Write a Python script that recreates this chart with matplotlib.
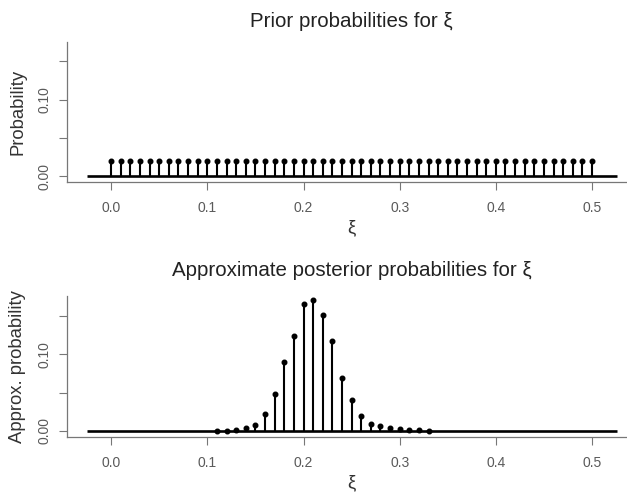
import numpy as np
import matplotlib
matplotlib.use('Agg')
import matplotlib.pyplot as plt
from matplotlib.ticker import FixedLocator, FixedFormatter

plt.rcParams['font.family'] = ['Liberation Sans', 'DejaVu Sans']

# prior: uniform over xi = 0.00, 0.01, ..., 0.50
xi_prior = np.round(np.arange(0, 51) * 0.01, 2)
p_prior = np.full(51, 1 / 51)

# approximate posterior
xi_post = np.round(np.arange(11, 34) * 0.01, 2)
p_post = [0.0005, 0.0006, 0.001, 0.004, 0.008, 0.022, 0.048, 0.090,
          0.124, 0.165, 0.171, 0.151, 0.117, 0.069, 0.040, 0.020,
          0.0095, 0.006, 0.0035, 0.0025, 0.0012, 0.0008, 0.0004]

baseline_x = [-0.025, 0.526]
y_ticks = [0.0, 0.05, 0.10, 0.15]
y_tick_labels = ['0.00', '', '0.10', '']
x_ticks = [0.0, 0.1, 0.2, 0.3, 0.4, 0.5]
x_tick_labels = ['0.0', '0.1', '0.2', '0.3', '0.4', '0.5']

W, H = 627, 495
fig = plt.figure(figsize=(W / 100, H / 100), dpi=100)

axis_col = '#777777'
text_col = '#5a5a5a'


def make_axes(top_px, bottom_px):
    left_px, right_px = 66.7, 636.5
    ax = fig.add_axes([left_px / W, 1 - bottom_px / H,
                       (right_px - left_px) / W, (bottom_px - top_px) / H])
    ax.set_xlim(-0.0462, 0.5462)
    ax.set_ylim(-0.0072, 0.1755)
    for s in ['top', 'right']:
        ax.spines[s].set_visible(False)
    for s in ['left', 'bottom']:
        ax.spines[s].set_color(axis_col)
        ax.spines[s].set_linewidth(0.9)
    ax.xaxis.set_major_locator(FixedLocator(x_ticks))
    ax.xaxis.set_major_formatter(FixedFormatter(x_tick_labels))
    ax.yaxis.set_major_locator(FixedLocator(y_ticks))
    ax.yaxis.set_major_formatter(FixedFormatter(y_tick_labels))
    ax.tick_params(axis='both', direction='out', length=6, width=0.8,
                   color=axis_col, labelcolor=text_col, labelsize=10)
    ax.tick_params(axis='x', pad=8)
    ax.tick_params(axis='y', pad=5)
    for lab in ax.get_yticklabels():
        lab.set_rotation(90)
        lab.set_va('center')
    ax.plot(baseline_x, [0, 0], color='black', lw=1.9, solid_capstyle='butt')
    return ax


ax1 = make_axes(41.7, 181.7)
ax1.vlines(xi_prior, 0, p_prior, color='black', lw=1.5)
ax1.plot(xi_prior, p_prior, 'o', color='black', ms=3.3)
ax1.set_title('Prior probabilities for ξ', fontsize=14.8, color='#222222', pad=10.4)
ax1.set_ylabel('Probability', fontsize=13.3, color='#333333')
ax1.set_xlabel('ξ', fontsize=13.3, color='#333333')
ax1.yaxis.set_label_coords(-0.071, 0.5)
ax1.xaxis.set_label_coords(0.5, -0.27)

ax2 = make_axes(296.3, 436.5)
ax2.vlines(xi_post, 0, p_post, color='black', lw=1.5)
ax2.plot(xi_post, p_post, 'o', color='black', ms=3.3)
ax2.set_title('Approximate posterior probabilities for ξ', fontsize=14.8,
              color='#222222', pad=14.8)
ax2.set_ylabel('Approx. probability', fontsize=13.3, color='#333333')
ax2.set_xlabel('ξ', fontsize=13.3, color='#333333')
ax2.yaxis.set_label_coords(-0.071, 0.5)
ax2.xaxis.set_label_coords(0.5, -0.27)

fig.savefig('out.png', dpi=100)
